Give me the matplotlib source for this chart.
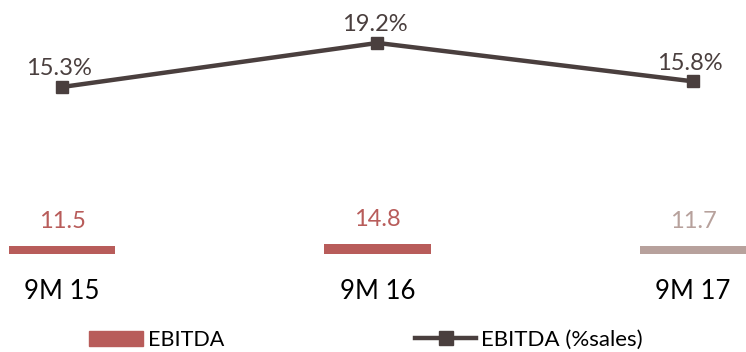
import numpy as np
import matplotlib.pyplot as plt
from matplotlib.patches import Patch
from matplotlib.lines import Line2D

# data
periods = ['9M 15', '9M 16', '9M 17']
ebitda = [11.5, 14.8, 11.7]
ebitda_pct = [15.3, 19.2, 15.8]

bar_colors = ['#b85c5a', '#b85c5a', '#b7a19c']
label_colors = ['#b85c5a', '#b85c5a', '#b7a19c']
line_color = '#4a3f3e'

plt.rcParams['font.family'] = ['Lato', 'DejaVu Sans']

fig = plt.figure(figsize=(7.46, 3.52), dpi=100)
ax = fig.add_axes([0, 98 / 352, 1, 254 / 352])
ax2 = ax.twinx()

x = np.arange(len(periods))

# thin EBITDA bars at the bottom
ax.bar(x, ebitda, width=0.336, color=bar_colors)
ax.set_ylim(0, 365)
for xi, v, c in zip(x, ebitda, label_colors):
    ax.text(xi, v + 35, f'{v:.1f}', ha='center', va='center', fontsize=17,
            color=c)

# EBITDA margin line
ax2.plot(x, ebitda_pct, color=line_color, lw=3.2, marker='s', ms=8)
ax2.set_ylim(0.52, 23.0)
for xi, v in zip(x, ebitda_pct):
    ax2.text(xi - 0.01, v + 1.6, f'{v:.1f}%', ha='center', va='center',
             fontsize=17, color=line_color)

ax.set_xlim(-62 / 315.5, 684 / 315.5)
for a in (ax, ax2):
    a.set_yticks([])
    for s in a.spines.values():
        s.set_visible(False)
ax.set_xticks(x)
ax.set_xticklabels(periods, fontsize=18.5, color='black')
ax.tick_params(axis='x', length=0, pad=18)

# two separate legend entries
leg1 = fig.legend([Patch(color='#b85c5a')], ['EBITDA'], loc='center left',
                  bbox_to_anchor=(89 / 746, 1 - 340 / 352), frameon=False,
                  borderpad=0, borderaxespad=0, handlelength=2.5,
                  handletextpad=0.25, prop={'size': 15.5})
leg2 = fig.legend([Line2D([0], [0], color=line_color, lw=3.2, marker='s', ms=9.5)],
                  ['EBITDA (%sales)'], loc='center left',
                  bbox_to_anchor=(415 / 746, 1 - 340 / 352), frameon=False,
                  borderpad=0, borderaxespad=0, handlelength=2.75,
                  handletextpad=0.2, prop={'size': 16})

fig.savefig('out.png', dpi=100)
